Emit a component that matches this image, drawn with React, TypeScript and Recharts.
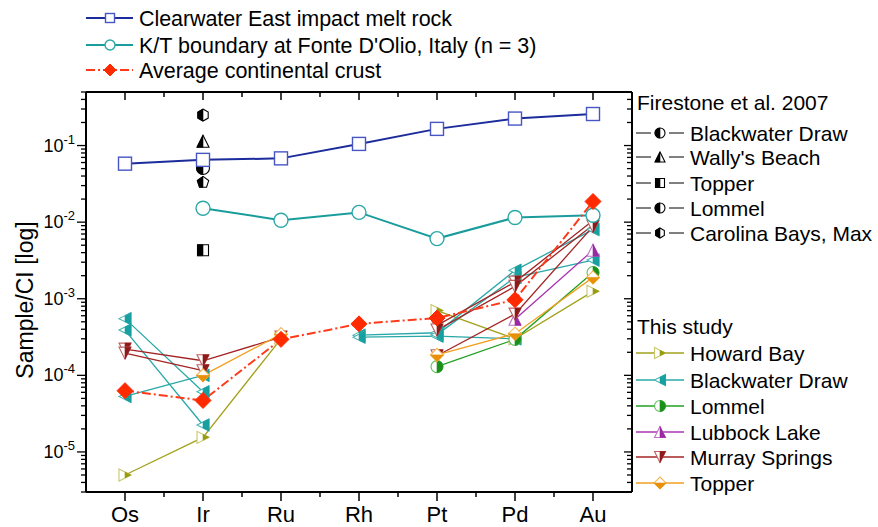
import React from 'react';
import { ComposedChart, Line, XAxis, YAxis } from 'recharts';

// ---------- DATA ----------
const elements = ['Os', 'Ir', 'Ru', 'Rh', 'Pt', 'Pd', 'Au'];

const clearwaterEast = [0.058, 0.065, 0.068, 0.105, 0.165, 0.225, 0.258];
const ktFonteDOlio = [null, 0.0152, 0.0106, 0.0134, 0.0061, 0.0115, 0.0123];
const avgContinentalCrust = [6.3e-5, 4.7e-5, 2.95e-4, 4.7e-4, 5.6e-4, 9.7e-4, 0.0186];

// Firestone et al. 2007 (Ir only)
const fsBlackwaterDraw = [null, 0.033, null, null, null, null, null];
const fsWallysBeach = [null, 0.114, null, null, null, null, null];
const fsTopper = [null, 0.0043, null, null, null, null, null];
const fsLommel = [null, 0.051, null, null, null, null, null];
const fsCarolinaBaysMax = [null, 0.25, null, null, null, null, null];

// This study
const howardBay1 = [5.0e-6, 1.55e-5, 3.0e-4, null, 7.0e-4, 3.0e-4, 1.25e-3];
const blackwaterDraw1 = [5.5e-4, 6.1e-5, null, 3.35e-4, 3.6e-4, 2.35e-3, 8.0e-3];
const blackwaterDraw2 = [3.9e-4, 2.25e-5, null, 3.15e-4, 3.25e-4, 3.0e-4, null];
const blackwaterDraw3 = [5.3e-5, 1.0e-4, null, null, 3.4e-4, 1.9e-3, 3.2e-3];
const lommel1 = [null, null, null, null, 1.3e-4, 2.95e-4, 2.2e-3];
const lubbockLake1 = [null, null, null, null, null, 5.4e-4, 4.3e-3];
const murraySprings1 = [2.2e-4, 1.55e-4, 3.15e-4, null, 4.5e-4, 1.65e-3, 0.0105];
const murraySprings2 = [1.95e-4, 1.15e-4, null, null, 3.9e-4, 1.45e-3, 0.0092];
const murraySprings3 = [null, null, null, null, 1.8e-4, 6.3e-4, 0.0088];
const topper1 = [null, 1.0e-4, 3.45e-4, null, 1.85e-4, 3.5e-4, 1.9e-3];

const yMajorTicks = [1e-5, 1e-4, 1e-3, 1e-2, 1e-1];
const yMajorExponents = ['-5', '-4', '-3', '-2', '-1'];
const yDomain = [3e-6, 0.5];
const xTicks = [0, 0.5, 1, 1.5, 2, 2.5, 3, 3.5, 4, 4.5, 5, 5.5, 6];

// ---------- STYLE ----------
const FONT = "'Liberation Sans', Arial, Helvetica, sans-serif";
const C = {
  blueLine: '#1c2c9c', blueMk: '#4656c4',
  tealLine: '#1a9c9c', tealMk: '#2aa8a8',
  red: '#ff2a00', redLine: '#ff3a1a',
  olive: '#a2a21c', teal: '#18a0a0', green: '#22a022', purple: '#a834b0', darkred: '#a32424', orange: '#f2a020',
};

const yMinor: number[] = [];
for (let e = -6; e <= -1; e++) {
  for (let m = 1; m <= 9; m++) {
    const v = m * Math.pow(10, e);
    if (v >= yDomain[0] && v <= yDomain[1]) yMinor.push(Number(v.toPrecision(3)));
  }
}
const isMajorY = (v: number) => yMajorTicks.some((t) => Math.abs(t - v) / t < 1e-6);

// ---------- MARKERS ----------
type MK = { kind: string; size: number; stroke: string; fill?: string; sw?: number };

function pts(cx: number, cy: number, arr: number[][]) {
  return arr.map(([x, y]) => `${cx + x},${cy + y}`).join(' ');
}

function Marker({ cx, cy, m }: { cx: number; cy: number; m: MK }) {
  const h = m.size / 2;
  const sw = m.sw ?? 1.1;
  const st = m.stroke;
  const f = m.fill ?? m.stroke;
  const poly = (full: number[][], half: number[][]) => (
    <g>
      <polygon points={pts(cx, cy, full)} fill="#fff" stroke={st} strokeWidth={sw} />
      <polygon points={pts(cx, cy, half)} fill={f} stroke={f} strokeWidth={0.6} />
    </g>
  );
  const k = 0.866 * h;
  switch (m.kind) {
    case 'squareOpen':
      return <rect x={cx - h} y={cy - h} width={m.size} height={m.size} fill="#fff" stroke={st} strokeWidth={sw} />;
    case 'circleOpen':
      return <circle cx={cx} cy={cy} r={h} fill="#fff" stroke={st} strokeWidth={sw} />;
    case 'diamondFilled':
      return <polygon points={pts(cx, cy, [[0, -h], [h, 0], [0, h], [-h, 0]])} fill={f} stroke={f} strokeWidth={1} />;
    case 'triRight':
      return poly([[-h, -h], [h, 0], [-h, h]], [[0, -h / 2], [h, 0], [0, h / 2]]);
    case 'triLeft':
      return poly([[h, -h], [-h, 0], [h, h]], [[0, -h / 2], [h, -h], [h, h], [0, h / 2]]);
    case 'triUpR':
      return poly([[0, -h], [h, h], [-h, h]], [[0, -h], [h, h], [0, h]]);
    case 'triUpL':
      return poly([[0, -h], [h, h], [-h, h]], [[0, -h], [-h, h], [0, h]]);
    case 'triDownR':
      return poly([[0, h], [h, -h], [-h, -h]], [[0, -h], [h, -h], [0, h]]);
    case 'diamondB':
      return poly([[0, -h], [h, 0], [0, h], [-h, 0]], [[-h, 0], [h, 0], [0, h]]);
    case 'squareL':
      return poly([[-h, -h], [h, -h], [h, h], [-h, h]], [[-h, -h], [0, -h], [0, h], [-h, h]]);
    case 'hexL':
      return poly(
        [[0, -h], [k, -h / 2], [k, h / 2], [0, h], [-k, h / 2], [-k, -h / 2]],
        [[0, -h], [-k, -h / 2], [-k, h / 2], [0, h]]
      );
    case 'pentL':
      return poly(
        [[0, -h], [0.951 * h, -0.309 * h], [0.588 * h, 0.809 * h], [-0.588 * h, 0.809 * h], [-0.951 * h, -0.309 * h]],
        [[0, -h], [-0.951 * h, -0.309 * h], [-0.588 * h, 0.809 * h], [0, 0.809 * h]]
      );
    case 'circR':
    case 'circL': {
      const sweep = m.kind === 'circR' ? 1 : 0;
      return (
        <g>
          <circle cx={cx} cy={cy} r={h} fill="#fff" stroke={st} strokeWidth={sw} />
          <path d={`M ${cx} ${cy - h} A ${h} ${h} 0 0 ${sweep} ${cx} ${cy + h} Z`} fill={f} stroke={f} strokeWidth={0.6} />
        </g>
      );
    }
    default:
      return null;
  }
}

// ---------- SERIES ----------
type Series = { key: string; values: (number | null)[]; line: string; width: number; dash?: string; mk: MK; noLine?: boolean };

const studySeries: Series[] = [
  { key: 'hb1', values: howardBay1, line: C.olive, width: 1.3, mk: { kind: 'triRight', size: 12, stroke: '#c8c870', fill: '#9a9a10' } },
  { key: 'bw1', values: blackwaterDraw1, line: C.tealMk, width: 1.3, mk: { kind: 'triLeft', size: 12, stroke: '#48b4b4', fill: C.teal } },
  { key: 'bw2', values: blackwaterDraw2, line: C.tealMk, width: 1.3, mk: { kind: 'triLeft', size: 12, stroke: '#48b4b4', fill: C.teal } },
  { key: 'bw3', values: blackwaterDraw3, line: C.tealMk, width: 1.3, mk: { kind: 'triLeft', size: 12, stroke: '#48b4b4', fill: C.teal } },
  { key: 'lo1', values: lommel1, line: C.green, width: 1.3, mk: { kind: 'circR', size: 12, stroke: '#60c060', fill: '#1a901a' } },
  { key: 'lu1', values: lubbockLake1, line: C.purple, width: 1.3, mk: { kind: 'triUpR', size: 12, stroke: '#c070c8', fill: '#9a2aa2' } },
  { key: 'ms1', values: murraySprings1, line: C.darkred, width: 1.3, mk: { kind: 'triDownR', size: 12, stroke: '#c06060', fill: '#8e1a1a' } },
  { key: 'ms2', values: murraySprings2, line: C.darkred, width: 1.3, mk: { kind: 'triDownR', size: 12, stroke: '#c06060', fill: '#8e1a1a' } },
  { key: 'ms3', values: murraySprings3, line: C.darkred, width: 1.3, mk: { kind: 'triDownR', size: 12, stroke: '#c06060', fill: '#8e1a1a' } },
  { key: 'tp1', values: topper1, line: C.orange, width: 1.3, mk: { kind: 'diamondB', size: 13, stroke: '#f5b850', fill: '#e8900a' } },
];

const firestoneSeries: Series[] = [
  { key: 'fsBD', values: fsBlackwaterDraw, line: '#000', width: 1, noLine: true, mk: { kind: 'pentL', size: 12, stroke: '#000' } },
  { key: 'fsWB', values: fsWallysBeach, line: '#000', width: 1, noLine: true, mk: { kind: 'triUpL', size: 12, stroke: '#000' } },
  { key: 'fsTP', values: fsTopper, line: '#000', width: 1, noLine: true, mk: { kind: 'squareL', size: 11, stroke: '#000' } },
  { key: 'fsLO', values: fsLommel, line: '#000', width: 1, noLine: true, mk: { kind: 'circL', size: 13, stroke: '#000' } },
  { key: 'fsCB', values: fsCarolinaBaysMax, line: '#000', width: 1, noLine: true, mk: { kind: 'hexL', size: 12, stroke: '#000' } },
];

const refSeries: Series[] = [
  { key: 'kt', values: ktFonteDOlio, line: C.tealLine, width: 2, mk: { kind: 'circleOpen', size: 14, stroke: C.tealMk, sw: 1.4 } },
  { key: 'cw', values: clearwaterEast, line: C.blueLine, width: 2, mk: { kind: 'squareOpen', size: 13, stroke: C.blueMk, sw: 1.4 } },
  { key: 'crust', values: avgContinentalCrust, line: C.redLine, width: 2, dash: '9 3 2 3', mk: { kind: 'diamondFilled', size: 16, stroke: C.red, fill: C.red } },
];

const allSeries = [...studySeries, ...firestoneSeries, ...refSeries];

const rows = elements.map((el, i) => {
  const r: Record<string, number | string | null> = { x: i, el };
  allSeries.forEach((s) => (r[s.key] = s.values[i]));
  return r;
});

// ---------- TICKS ----------
const XTickBottom = (p: any) => {
  const { x, y, payload } = p;
  const v = payload.value as number;
  const major = Number.isInteger(v);
  return (
    <g>
      <line x1={x} x2={x} y1={y} y2={y + (major ? 9 : 5)} stroke="#000" strokeWidth={1.5} />
      {major && (
        <text x={x} y={y + 30} textAnchor="middle" fontSize={22} fontFamily={FONT} fill="#000">
          {elements[v]}
        </text>
      )}
    </g>
  );
};
const XTickTop = (p: any) => {
  const { x, y, payload } = p;
  const major = Number.isInteger(payload.value);
  return <line x1={x} x2={x} y1={y} y2={y + (major ? 8 : 5)} stroke="#000" strokeWidth={1.5} />;
};
const YTickLeft = (p: any) => {
  const { x, y, payload } = p;
  const v = payload.value as number;
  const major = isMajorY(v);
  const idx = yMajorTicks.findIndex((t) => Math.abs(t - v) / t < 1e-6);
  return (
    <g>
      <line x1={x - (major ? 9 : 5)} x2={x} y1={y} y2={y} stroke="#000" strokeWidth={1.3} />
      {major && (
        <text x={x - 11} y={y + 6} textAnchor="end" fontFamily={FONT} fill="#000" fontSize={18}>
          <tspan>10</tspan>
          <tspan dy={-8} fontSize={13}>{yMajorExponents[idx]}</tspan>
        </text>
      )}
    </g>
  );
};
const YTickRight = (p: any) => {
  const { x, y, payload } = p;
  const major = isMajorY(payload.value);
  return <line x1={x - (major ? 8 : 5)} x2={x} y1={y} y2={y} stroke="#000" strokeWidth={1.3} />;
};

const renderDot = (s: Series) => (p: any) => {
  const key = `${s.key}-${p.index}`;
  if (p.cy == null || p.value == null || Number.isNaN(p.cy)) return <g key={key} />;
  return (
    <g key={key}>
      <Marker cx={p.cx} cy={p.cy} m={s.mk} />
    </g>
  );
};

// ---------- LEGENDS ----------
const topLegend = [
  { label: 'Clearwater East impact melt rock', s: refSeries[1], y: 18, len: 313, msize: 9 },
  { label: "K/T boundary at Fonte D'Olio, Italy (n = 3)", s: refSeries[0], y: 45, len: 0, msize: 10 },
  { label: 'Average continental crust', s: refSeries[2], y: 70, len: 0, msize: 12 },
];
const firestoneLegend = [
  { label: 'Blackwater Draw', mk: { kind: 'circL', size: 10, stroke: '#000' }, y: 133 },
  { label: "Wally's Beach", mk: { kind: 'triUpL', size: 10, stroke: '#000' }, y: 157 },
  { label: 'Topper', mk: { kind: 'squareL', size: 9, stroke: '#000' }, y: 183 },
  { label: 'Lommel', mk: { kind: 'circL', size: 10, stroke: '#000' }, y: 208 },
  { label: 'Carolina Bays, Max', mk: { kind: 'hexL', size: 10, stroke: '#000' }, y: 233 },
];
const studyLegend = [
  { label: 'Howard Bay', s: studySeries[0], y: 353 },
  { label: 'Blackwater Draw', s: studySeries[1], y: 380 },
  { label: 'Lommel', s: studySeries[4], y: 406 },
  { label: 'Lubbock Lake', s: studySeries[5], y: 432 },
  { label: 'Murray Springs', s: studySeries[6], y: 457 },
  { label: 'Topper', s: studySeries[9], y: 483 },
];

const LegendLayer = () => (
  <svg width={878} height={527} style={{ position: 'absolute', left: 0, top: 0, pointerEvents: 'none' }}>
    {topLegend.map((it) => (
      <g key={it.label}>
        <line x1={86} x2={133} y1={it.y} y2={it.y} stroke={it.s.line} strokeWidth={it.s.width} strokeDasharray={it.s.dash} />
        <Marker cx={110} cy={it.y} m={{ ...it.s.mk, size: it.msize }} />
        <text
          x={139}
          y={it.y + 7.5}
          fontSize={21.5}
          fontFamily={FONT}
          fill="#000"
          {...(it.len ? { textLength: it.len, lengthAdjust: 'spacing' } : {})}
        >
          {it.label}
        </text>
      </g>
    ))}
    <text x={637} y={110} fontSize={21} fontFamily={FONT} fill="#000">Firestone et al. 2007</text>
    {firestoneLegend.map((it) => (
      <g key={'f' + it.label}>
        <line x1={636} x2={651} y1={it.y} y2={it.y} stroke="#000" strokeWidth={1} />
        <line x1={669} x2={684} y1={it.y} y2={it.y} stroke="#000" strokeWidth={1} />
        <Marker cx={660} cy={it.y} m={it.mk as MK} />
        <text x={690} y={it.y + 7.5} fontSize={21} fontFamily={FONT} fill="#000">{it.label}</text>
      </g>
    ))}
    <text x={637} y={334} fontSize={21} fontFamily={FONT} fill="#000">This study</text>
    {studyLegend.map((it) => (
      <g key={'s' + it.label}>
        <line x1={636} x2={684} y1={it.y} y2={it.y} stroke={it.s.line} strokeWidth={1.3} />
        <Marker cx={660} cy={it.y} m={{ ...it.s.mk, size: it.s.mk.size - 1 }} />
        <text x={690} y={it.y + 7.5} fontSize={21} fontFamily={FONT} fill="#000">{it.label}</text>
      </g>
    ))}
    <text
      x={33}
      y={300}
      fontSize={23}
      fontFamily={FONT}
      fill="#000"
      textAnchor="middle"
      transform="rotate(-90 33 300)"
    >
      Sample/CI [log]
    </text>
  </svg>
);

export default function App() {
  return (
    <div style={{ position: 'absolute', left: 0, top: 0, width: 878, height: 527, background: '#fff' }}>
      <ComposedChart width={878} height={527} data={rows} margin={{ top: 91, right: 245, bottom: 5, left: 26 }}>
        <XAxis
          dataKey="x"
          type="number"
          domain={[-0.5, 6.5]}
          ticks={xTicks}
          interval={0}
          tick={<XTickBottom />}
          tickLine={false}
          tickSize={0}
          tickMargin={0}
          height={30}
          axisLine={{ stroke: '#000', strokeWidth: 2 }}
          allowDataOverflow
        />
        <XAxis
          xAxisId="top"
          orientation="top"
          dataKey="x"
          type="number"
          domain={[-0.5, 6.5]}
          ticks={xTicks}
          interval={0}
          tick={<XTickTop />}
          tickLine={false}
          tickSize={0}
          tickMargin={0}
          height={1}
          axisLine={{ stroke: '#000', strokeWidth: 2 }}
          allowDataOverflow
        />
        <YAxis
          type="number"
          scale="log"
          domain={yDomain}
          ticks={yMinor}
          interval={0}
          tick={<YTickLeft />}
          tickLine={false}
          tickSize={0}
          tickMargin={0}
          width={60}
          axisLine={{ stroke: '#000', strokeWidth: 2 }}
          allowDataOverflow
        />
        <YAxis
          yAxisId="right"
          orientation="right"
          type="number"
          scale="log"
          domain={yDomain}
          ticks={yMinor}
          interval={0}
          tick={<YTickRight />}
          tickLine={false}
          tickSize={0}
          tickMargin={0}
          width={1}
          axisLine={{ stroke: '#000', strokeWidth: 2 }}
          allowDataOverflow
        />
        {allSeries.map((s) => (
          <Line
            key={s.key}
            dataKey={s.key}
            type="linear"
            stroke={s.noLine ? 'none' : s.line}
            strokeWidth={s.width}
            strokeDasharray={s.dash}
            dot={renderDot(s)}
            activeDot={false}
            connectNulls={false}
            isAnimationActive={false}
            legendType="none"
          />
        ))}
      </ComposedChart>
      <LegendLayer />
    </div>
  );
}
